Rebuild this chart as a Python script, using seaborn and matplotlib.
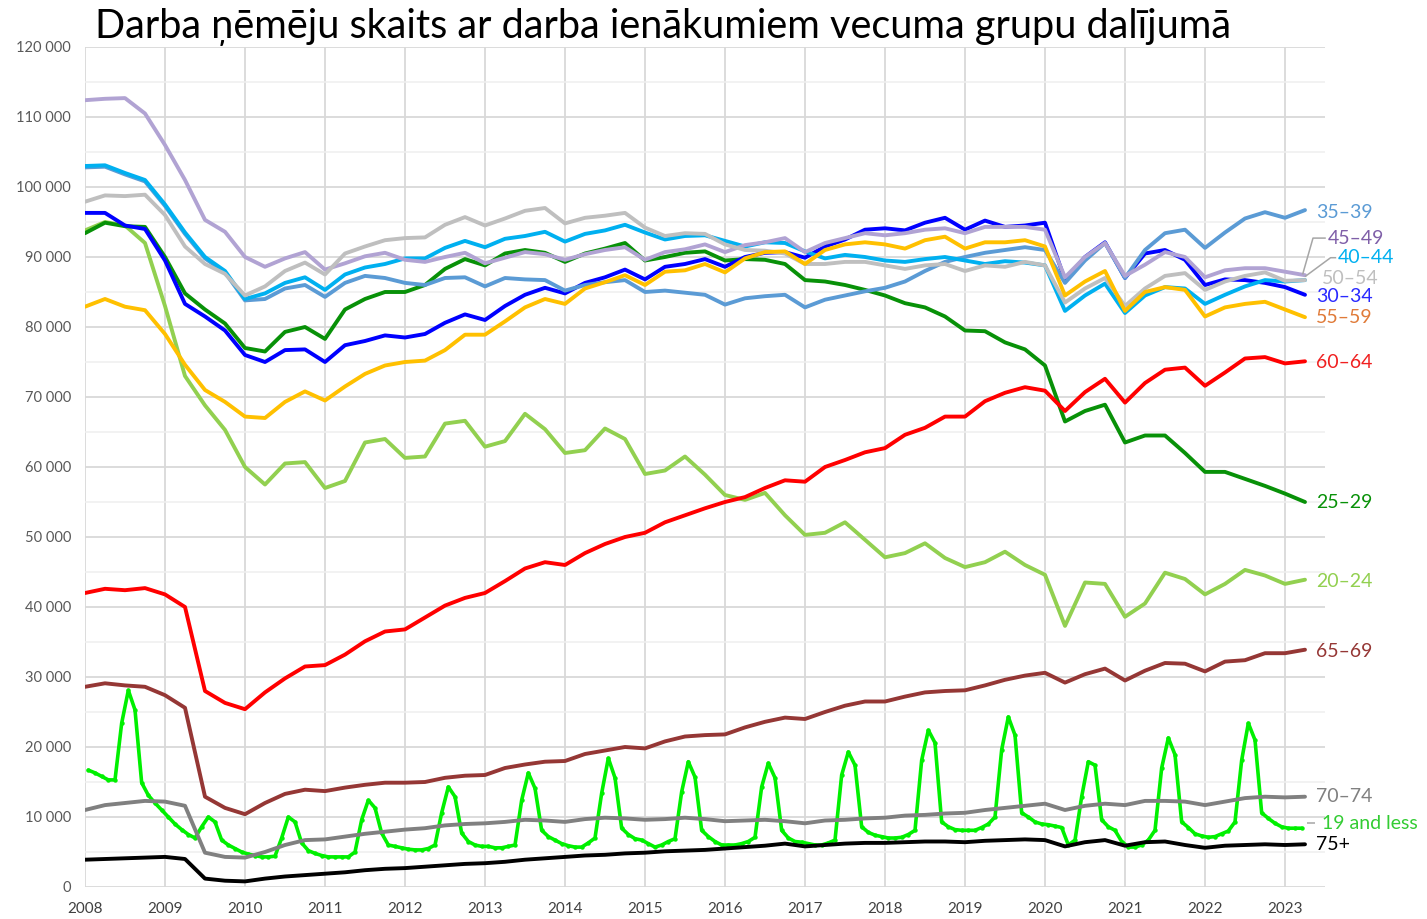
import numpy as np
import pandas as pd
import matplotlib
matplotlib.use("Agg")
import matplotlib.pyplot as plt
from matplotlib.ticker import FuncFormatter
import seaborn as sns

# --- data, thousands of employees ---
# quarterly points (Jan/Apr/Jul/Oct), 2008 Q1 .. 2023 Q2
quarters = 2008 + 0.25 * np.arange(62)
# monthly points (mid month), Jan 2008 .. Mar 2023
months = 2008 + (np.arange(183) + 0.5) / 12

age_le19 = [
    16.7, 16.3, 15.8, 15.3, 15.3, 23.4, 28.1, 25.3, 14.9, 13.1, 12.0, 11.0,
    10.0, 9.0, 8.2, 7.5, 7.0, 8.6, 10.0, 9.3, 6.7, 6.0, 5.5, 5.0,
    4.7, 4.5, 4.3, 4.3, 4.4, 7.0, 10.0, 9.3, 6.3, 5.2, 4.8, 4.5,
    4.3, 4.3, 4.3, 4.3, 5.0, 9.6, 12.4, 11.3, 7.7, 6.0, 5.8, 5.6,
    5.4, 5.3, 5.3, 5.5, 6.0, 10.6, 14.3, 12.9, 7.7, 6.5, 6.0, 5.8,
    5.8, 5.6, 5.6, 5.8, 6.0, 12.4, 16.3, 14.1, 8.1, 7.2, 6.7, 6.2,
    5.9, 5.7, 5.7, 6.3, 7.0, 13.4, 18.4, 15.6, 8.4, 7.5, 6.9, 6.7,
    6.2, 5.7, 6.0, 6.5, 6.9, 13.6, 17.9, 15.7, 8.1, 7.2, 6.5, 6.0,
    6.0, 6.0, 6.2, 6.5, 7.1, 14.3, 17.7, 15.6, 8.1, 7.0, 6.5, 6.4,
    6.2, 6.0, 6.0, 6.3, 6.7, 16.0, 19.3, 17.4, 8.6, 7.8, 7.4, 7.2,
    7.0, 7.0, 7.1, 7.5, 8.1, 18.1, 22.4, 20.6, 9.3, 8.6, 8.2, 8.1,
    8.1, 8.1, 8.5, 9.0, 10.0, 19.6, 24.3, 21.7, 10.6, 10.0, 9.3, 9.0,
    8.9, 8.7, 8.5, 6.0, 6.7, 12.9, 17.9, 17.4, 9.6, 8.6, 8.1, 6.5,
    5.7, 5.7, 6.0, 6.7, 8.1, 17.0, 21.3, 18.9, 9.3, 8.5, 7.6, 7.3,
    7.1, 7.2, 7.6, 8.0, 9.3, 18.1, 23.4, 21.0, 10.6, 9.8, 9.1, 8.6,
    8.4, 8.4, 8.4,
]

age_20_24 = [
    93.8, 95.0, 94.5, 92.0, 83.0, 73.0, 68.8, 65.3, 60.0, 57.5, 60.5, 60.7,
    57.0, 58.0, 63.5, 64.0, 61.3, 61.5, 66.2, 66.6, 62.9, 63.7, 67.6, 65.4,
    62.0, 62.4, 65.5, 64.0, 59.0, 59.5, 61.5, 58.9, 56.0, 55.3, 56.3, 53.1,
    50.3, 50.6, 52.1, 49.6, 47.1, 47.7, 49.1, 47.0, 45.7, 46.4, 47.9, 46.0,
    44.6, 37.3, 43.5, 43.3, 38.6, 40.5, 44.9, 44.0, 41.8, 43.3, 45.3, 44.5,
    43.3, 43.9,
]
age_25_29 = [
    93.4, 94.9, 94.4, 94.3, 90.0, 84.8, 82.5, 80.5, 77.0, 76.5, 79.3, 80.0,
    78.3, 82.5, 84.0, 85.0, 85.0, 86.0, 88.3, 89.7, 88.8, 90.5, 91.0, 90.6,
    89.3, 90.5, 91.2, 92.0, 89.5, 90.0, 90.6, 90.8, 89.5, 89.7, 89.6, 89.0,
    86.7, 86.5, 86.0, 85.3, 84.5, 83.4, 82.8, 81.5, 79.5, 79.4, 77.8, 76.8,
    74.5, 66.5, 68.0, 68.9, 63.5, 64.5, 64.5, 62.0, 59.3, 59.3, 58.3, 57.3,
    56.2, 55.0,
]
age_30_34 = [
    96.3, 96.3, 94.5, 94.0, 89.5, 83.3, 81.5, 79.5, 76.0, 75.0, 76.7, 76.8,
    75.0, 77.4, 78.0, 78.8, 78.5, 79.0, 80.6, 81.8, 81.0, 83.0, 84.6, 85.6,
    84.8, 86.3, 87.1, 88.2, 86.8, 88.6, 89.0, 89.7, 88.6, 90.0, 90.6, 90.7,
    89.9, 91.5, 92.5, 93.9, 94.1, 93.8, 94.9, 95.6, 93.9, 95.2, 94.3, 94.5,
    94.9, 86.7, 90.0, 92.1, 87.0, 90.5, 91.0, 89.6, 86.0, 86.8, 86.7, 86.3,
    85.7, 84.6,
]
age_35_39 = [
    102.8, 102.9, 101.8, 100.8, 97.3, 93.3, 89.8, 87.8, 83.8, 84.0, 85.5, 86.0,
    84.3, 86.3, 87.3, 87.0, 86.3, 86.0, 87.0, 87.1, 85.8, 87.0, 86.8, 86.7,
    85.2, 86.0, 86.4, 86.7, 85.0, 85.2, 84.9, 84.6, 83.2, 84.1, 84.4, 84.6,
    82.8, 83.9, 84.5, 85.1, 85.6, 86.5, 88.0, 89.3, 90.0, 90.6, 91.0, 91.4,
    91.0, 86.3, 89.5, 92.0, 87.0, 91.0, 93.4, 93.9, 91.3, 93.5, 95.5, 96.4,
    95.6, 96.7,
]
age_40_44 = [
    103.0, 103.1, 102.0, 101.0, 97.5, 93.5, 90.0, 88.0, 84.0, 84.8, 86.3, 87.1,
    85.3, 87.5, 88.5, 89.0, 89.8, 89.8, 91.3, 92.3, 91.4, 92.6, 93.0, 93.6,
    92.2, 93.3, 93.8, 94.6, 93.5, 92.5, 93.0, 93.1, 92.3, 91.5, 92.1, 92.0,
    90.8, 89.8, 90.3, 90.0, 89.5, 89.3, 89.7, 90.0, 89.5, 89.0, 89.4, 89.2,
    88.8, 82.3, 84.5, 86.2, 82.0, 84.5, 85.7, 85.5, 83.3, 84.6, 85.8, 86.7,
    86.5, 86.7,
]
age_45_49 = [
    112.4, 112.6, 112.7, 110.5, 106.0, 101.0, 95.3, 93.6, 90.0, 88.6, 89.8, 90.7,
    88.2, 89.1, 90.1, 90.6, 89.6, 89.3, 90.0, 90.6, 89.1, 89.9, 90.7, 90.4,
    89.6, 90.4, 91.0, 91.4, 89.6, 90.7, 91.1, 91.8, 90.7, 91.7, 92.1, 92.7,
    90.7, 92.0, 92.7, 93.4, 93.1, 93.4, 93.9, 94.1, 93.4, 94.3, 94.3, 94.3,
    93.9, 87.1, 90.0, 92.0, 87.3, 88.9, 90.7, 90.0, 87.1, 88.1, 88.4, 88.4,
    87.9, 87.4,
]
age_50_54 = [
    97.9, 98.8, 98.7, 98.9, 96.0, 91.5, 89.0, 87.6, 84.5, 85.8, 88.0, 89.2,
    87.5, 90.5, 91.5, 92.4, 92.7, 92.8, 94.6, 95.7, 94.5, 95.5, 96.6, 97.0,
    94.8, 95.6, 95.9, 96.3, 94.2, 93.0, 93.4, 93.3, 91.8, 91.0, 90.9, 90.5,
    89.0, 89.0, 89.3, 89.3, 88.8, 88.3, 88.8, 89.0, 88.0, 88.8, 88.6, 89.3,
    88.8, 83.5, 85.5, 87.0, 83.0, 85.5, 87.3, 87.7, 85.3, 86.5, 87.3, 87.8,
    86.6, 86.7,
]
age_55_59 = [
    82.9, 84.0, 82.9, 82.4, 79.0, 74.6, 71.0, 69.3, 67.2, 67.0, 69.3, 70.8,
    69.5, 71.5, 73.3, 74.5, 75.0, 75.2, 76.7, 78.9, 78.9, 80.8, 82.8, 84.0,
    83.3, 85.5, 86.4, 87.4, 86.0, 87.9, 88.1, 89.0, 87.8, 89.8, 90.7, 90.8,
    89.0, 91.0, 91.8, 92.1, 91.8, 91.2, 92.4, 92.9, 91.2, 92.1, 92.1, 92.4,
    91.5, 84.5, 86.5, 88.0, 82.3, 85.0, 85.7, 85.3, 81.5, 82.8, 83.3, 83.6,
    82.5, 81.4,
]
age_60_64 = [
    42.0, 42.6, 42.4, 42.7, 41.8, 40.0, 28.0, 26.3, 25.4, 27.8, 29.8, 31.5,
    31.7, 33.2, 35.1, 36.5, 36.8, 38.5, 40.2, 41.3, 42.0, 43.7, 45.5, 46.4,
    46.0, 47.7, 49.0, 50.0, 50.6, 52.1, 53.1, 54.1, 55.0, 55.7, 57.0, 58.1,
    57.9, 60.0, 61.0, 62.1, 62.7, 64.6, 65.6, 67.2, 67.2, 69.4, 70.6, 71.4,
    70.9, 68.0, 70.7, 72.6, 69.2, 72.0, 73.9, 74.2, 71.6, 73.5, 75.5, 75.7,
    74.8, 75.1,
]
age_65_69 = [
    28.6, 29.1, 28.8, 28.6, 27.4, 25.6, 12.9, 11.3, 10.4, 12.0, 13.3, 13.9,
    13.7, 14.2, 14.6, 14.9, 14.9, 15.0, 15.6, 15.9, 16.0, 17.0, 17.5, 17.9,
    18.0, 19.0, 19.5, 20.0, 19.8, 20.8, 21.5, 21.7, 21.8, 22.8, 23.6, 24.2,
    24.0, 25.0, 25.9, 26.5, 26.5, 27.2, 27.8, 28.0, 28.1, 28.8, 29.6, 30.2,
    30.6, 29.2, 30.4, 31.2, 29.5, 30.9, 32.0, 31.9, 30.8, 32.2, 32.4, 33.4,
    33.4, 33.9,
]
age_70_74 = [
    11.0, 11.7, 12.0, 12.3, 12.2, 11.6, 4.9, 4.3, 4.2, 5.0, 6.0, 6.7,
    6.8, 7.2, 7.6, 7.9, 8.2, 8.4, 8.8, 9.0, 9.1, 9.3, 9.6, 9.5,
    9.3, 9.7, 9.9, 9.8, 9.6, 9.7, 9.9, 9.7, 9.4, 9.5, 9.6, 9.4,
    9.1, 9.5, 9.6, 9.8, 9.9, 10.2, 10.3, 10.5, 10.6, 11.0, 11.3, 11.6,
    11.9, 11.0, 11.6, 11.9, 11.7, 12.3, 12.3, 12.2, 11.7, 12.2, 12.7, 12.9,
    12.8, 12.9,
]
age_75p = [
    3.9, 4.0, 4.1, 4.2, 4.3, 4.0, 1.2, 0.9, 0.8, 1.2, 1.5, 1.7,
    1.9, 2.1, 2.4, 2.6, 2.7, 2.9, 3.1, 3.3, 3.4, 3.6, 3.9, 4.1,
    4.3, 4.5, 4.6, 4.8, 4.9, 5.1, 5.2, 5.3, 5.5, 5.7, 5.9, 6.2,
    5.8, 6.0, 6.2, 6.3, 6.3, 6.4, 6.5, 6.5, 6.4, 6.6, 6.7, 6.8,
    6.7, 5.8, 6.4, 6.7, 5.9, 6.4, 6.5, 6.0, 5.6, 5.9, 6.0, 6.1,
    6.0, 6.1,
]

quarterly = {
    "20–24": age_20_24, "25–29": age_25_29, "30–34": age_30_34,
    "35–39": age_35_39, "40–44": age_40_44, "45–49": age_45_49,
    "50–54": age_50_54, "55–59": age_55_59, "60–64": age_60_64,
    "65–69": age_65_69, "70–74": age_70_74, "75+": age_75p,
}
for name, vals in quarterly.items():
    assert len(vals) == len(quarters), name
assert len(age_le19) == len(months)

# line colours and label colours
line_colors = {
    "19 and less": "#00f000", "20–24": "#92d050", "25–29": "#089108",
    "30–34": "#0000ff", "35–39": "#5b9bd5", "40–44": "#00b0f0",
    "45–49": "#b1a3d3", "50–54": "#bfbfbf", "55–59": "#ffc000",
    "60–64": "#ff0000", "65–69": "#953735", "70–74": "#808080", "75+": "#000000",
}
label_colors = dict(line_colors)
label_colors.update({"19 and less": "#33cc33", "45–49": "#7f5fa8",
                     "55–59": "#e07b39", "30–34": "#2a2aff", "60–64": "#f02020"})

df = pd.concat(
    [pd.DataFrame({"year": quarters, "value": np.array(v) * 1000, "group": g})
     for g, v in quarterly.items()],
    ignore_index=True,
)
youth = pd.DataFrame({"year": months, "value": np.array(age_le19) * 1000})

# --- figure ---
sns.set_theme(style="white")
plt.rcParams["font.family"] = ["Lato", "DejaVu Sans"]

W, H = 1427, 919
fig = plt.figure(figsize=(W / 100, H / 100), dpi=100)
ax = fig.add_axes([85 / W, 1 - 887 / H, (1325 - 85) / W, (887 - 47) / H])

sns.lineplot(data=youth, x="year", y="value", color=line_colors["19 and less"],
             lw=2.6, marker="o", markersize=3.2, markeredgewidth=0, ax=ax)
sns.lineplot(data=df, x="year", y="value", hue="group",
             hue_order=list(quarterly.keys()), palette=line_colors,
             lw=2.8, estimator=None, legend=False, ax=ax)

ax.set_xlim(2008, 2023.5)
ax.set_ylim(0, 120000)
ax.set_xticks(range(2008, 2024))
ax.set_yticks(range(0, 120001, 10000))
ax.set_yticks(range(5000, 120000, 10000), minor=True)
ax.yaxis.set_major_formatter(FuncFormatter(lambda v, p: f"{int(v):,}".replace(",", " ")))
ax.grid(which="major", axis="both", color="#d9d9d9", lw=1.3)
ax.grid(which="minor", axis="y", color="#efefef", lw=1.1)
ax.set_axisbelow(True)
for s in ax.spines.values():
    s.set_visible(False)
ax.set_xlabel("")
ax.set_ylabel("")
ax.tick_params(axis="y", which="both", length=0, pad=10, labelsize=10.5, labelcolor="#595959")
ax.tick_params(axis="x", length=7, width=1.3, color="#d9d9d9", pad=4,
               labelsize=11, labelcolor="#404040")

# right-hand labels
end_labels = [
    ("35–39", 2023.39, 96.4), ("45–49", 2023.53, 92.7), ("40–44", 2023.66, 89.9),
    ("50–54", 2023.46, 87.0), ("30–34", 2023.39, 84.3), ("55–59", 2023.39, 81.3),
    ("60–64", 2023.39, 75.0), ("25–29", 2023.39, 54.9), ("20–24", 2023.39, 43.7),
    ("65–69", 2023.39, 33.7), ("70–74", 2023.39, 12.9), ("19 and less", 2023.46, 9.1),
    ("75+", 2023.39, 6.0),
]
for txt, x, y in end_labels:
    ax.text(x, y * 1000, txt, color=label_colors[txt], fontsize=14,
            ha="left", va="center", clip_on=False)

leader = dict(color="#a6a6a6", lw=1.1, clip_on=False, solid_capstyle="butt")
ax.plot([2023.22, 2023.35, 2023.51], [87500, 92700, 92700], **leader)
ax.plot([2023.25, 2023.57, 2023.64], [87200, 89900, 89900], **leader)
ax.plot([2023.27, 2023.38], [9100, 9100], **leader)

fig.text(95 / W, 1 - 27 / H, "Darba ņēmēju skaits ar darba ienākumiem vecuma grupu dalījumā",
         fontsize=28.5, ha="left", va="center", color="#000000")

fig.savefig("out.png", dpi=100)
